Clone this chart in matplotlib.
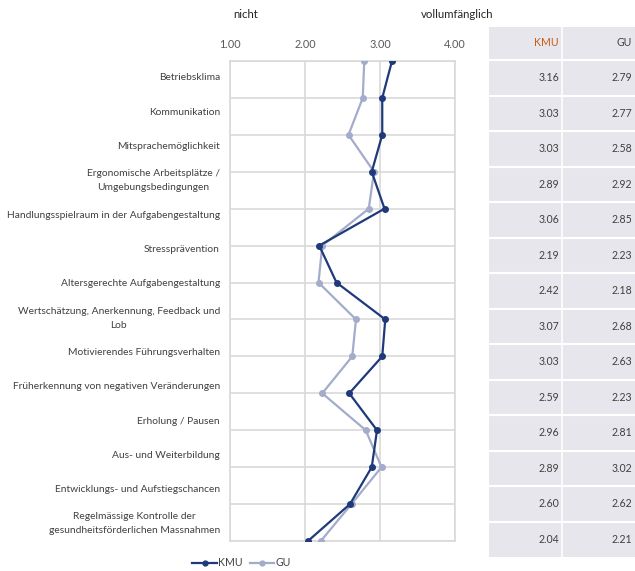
import matplotlib
matplotlib.use("Agg")
import matplotlib.pyplot as plt
from matplotlib.patches import Rectangle

plt.rcParams['font.family'] = ['Lato', 'DejaVu Sans']

categories = [
    "Betriebsklima",
    "Kommunikation",
    "Mitsprachemöglichkeit",
    "Ergonomische Arbeitsplätze /\nUmgebungsbedingungen",
    "Handlungsspielraum in der Aufgabengestaltung",
    "Stressprävention",
    "Altersgerechte Aufgabengestaltung",
    "Wertschätzung, Anerkennung, Feedback und\nLob",
    "Motivierendes Führungsverhalten",
    "Früherkennung von negativen Veränderungen",
    "Erholung / Pausen",
    "Aus- und Weiterbildung",
    "Entwicklungs- und Aufstiegschancen",
    "Regelmässige Kontrolle der\ngesundheitsförderlichen Massnahmen",
]
kmu = [3.16, 3.03, 3.03, 2.89, 3.06, 2.19, 2.42, 3.07, 3.03, 2.59, 2.96, 2.89, 2.60, 2.04]
gu = [2.79, 2.77, 2.58, 2.92, 2.85, 2.23, 2.18, 2.68, 2.63, 2.23, 2.81, 3.02, 2.62, 2.21]
x_ticks = [1.0, 2.0, 3.0, 4.0]

KMU_COL = "#1F3A7A"
GU_COL = "#A3ACCB"
GRID = "#D9D9D9"
TXT = "#404040"

W, H = 635, 571
fig = plt.figure(figsize=(W / 100, H / 100), dpi=100)

# pixel-space overlay for labels and the value table
bg = fig.add_axes([0, 0, 1, 1])
bg.set_xlim(0, W)
bg.set_ylim(H, 0)
bg.axis("off")

# main line chart
left, right, top, bottom = 230, 455, 61, 541
ax = fig.add_axes([left / W, 1 - bottom / H, (right - left) / W, (bottom - top) / H])
n = len(categories)
ypos = list(range(n))
ax.plot(gu, ypos, color=GU_COL, lw=1.6, marker="o", ms=4, zorder=3)
ax.plot(kmu, ypos, color=KMU_COL, lw=1.6, marker="o", ms=4, zorder=4)
ax.set_xlim(1, 4)
ax.set_ylim(n - 1, 0)
ax.set_xticks(x_ticks)
ax.set_xticklabels([f"{t:.2f}" for t in x_ticks])
ax.xaxis.tick_top()
ax.tick_params(axis="x", length=0, pad=8, labelsize=7.8, labelcolor="#595959")
ax.set_yticks(ypos)
ax.set_yticklabels([])
ax.tick_params(axis="y", length=0)
ax.grid(True, color=GRID, lw=1.2)
for s in ax.spines.values():
    s.set_color(GRID)
    s.set_linewidth(1.2)

bg.text(233, 15, "nicht", fontsize=8.2, color="#262626", va="center")
bg.text(421, 15, "vollumfänglich", fontsize=8.2, color="#262626", va="center")

# category labels: block right-aligned, lines centred on each other
renderer = fig.canvas.get_renderer()
lab_right = 220
for i, c in enumerate(categories):
    yc = 78 + 34.3 * i
    lines = c.split("\n")
    nl = len(lines)
    ys = [yc + (k - (nl - 1) / 2) * 14 for k in range(nl)]
    widths = []
    for ln in lines:
        t = bg.text(0, 0, ln, fontsize=7.4)
        widths.append(t.get_window_extent(renderer).width)
        t.remove()
    cx = lab_right - max(widths) / 2
    for ln, yy in zip(lines, ys):
        bg.text(cx, yy, ln, ha="center", va="center", fontsize=7.4, color=TXT)

# value table
tl, tr, tdiv = 489, 640, 562
t_top, h_bot, row_h = 27, 60, 35.5
bg.add_patch(Rectangle((tl, t_top), tr - tl, h_bot + row_h * n - t_top,
                       facecolor="#E7E6EC", edgecolor="none"))
bg.plot([tdiv, tdiv], [t_top, h_bot + row_h * n], color="white", lw=1.2)
for i in range(n):
    yy = h_bot + row_h * i
    bg.plot([tl, tr], [yy, yy], color="white", lw=1.5)
bg.text(tdiv - 3, 43, "KMU", ha="right", va="center", fontsize=7.6, color="#C55A11")
bg.text(632, 43, "GU", ha="right", va="center", fontsize=7.6, color=TXT)
for i in range(n):
    yc = h_bot + row_h * (i + 0.5)
    bg.text(tdiv - 3, yc, f"{kmu[i]:.2f}", ha="right", va="center", fontsize=7.6, color=TXT)
    bg.text(632, yc, f"{gu[i]:.2f}", ha="right", va="center", fontsize=7.6, color=TXT)

# legend
bg.plot([192, 217], [563, 563], color=KMU_COL, lw=1.6)
bg.plot([204.5], [563], color=KMU_COL, marker="o", ms=3.5)
bg.text(218, 563, "KMU", va="center", fontsize=7.6, color=TXT)
bg.plot([250, 274], [563, 563], color=GU_COL, lw=1.6)
bg.plot([262], [563], color=GU_COL, marker="o", ms=3.5)
bg.text(275, 563, "GU", va="center", fontsize=7.6, color=TXT)

fig.savefig("out.png", dpi=100, facecolor="white")
